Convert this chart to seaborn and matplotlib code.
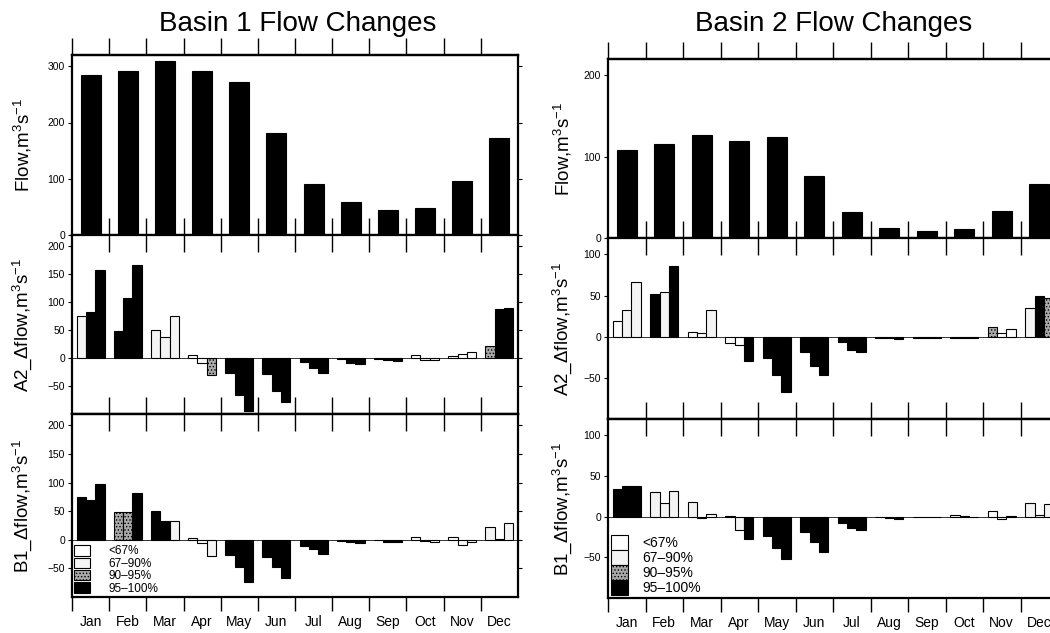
import numpy as np
import pandas as pd
import seaborn as sns
import matplotlib.pyplot as plt
from matplotlib.patches import Patch

months = ["Jan", "Feb", "Mar", "Apr", "May", "Jun",
          "Jul", "Aug", "Sep", "Oct", "Nov", "Dec"]
periods = ["T1", "T2", "T3"]
classes = ["<67%", "67–90%", "90–95%", "95–100%"]

# mean monthly flow, m3/s
basin1_flow = [285, 292, 309, 291, 272, 182, 90, 58, 44, 48, 96, 173]
basin2_flow = [108, 115, 127, 119, 124, 76, 32, 12, 9, 11, 33, 66]

# flow changes, three bars per month (T1, T2, T3)
basin1_a2 = [76, 82, 158, 48, 107, 167, 50, 38, 76, 5, -8, -30,
             -27, -66, -95, -28, -58, -79, -7, -17, -27, -2, -8, -11,
             -1, -4, -6, 5, -4, -4, 4, 8, 11, 22, 87, 90]
basin1_a2_cls = [1, 3, 3, 3, 3, 3, 1, 1, 1, 0, 0, 2,
                 3, 3, 3, 3, 3, 3, 3, 3, 3, 0, 3, 3,
                 0, 3, 3, 0, 0, 0, 0, 0, 0, 2, 3, 3]

basin1_b1 = [74, 70, 98, 48, 48, 81, 50, 33, 33, 4, -5, -29,
             -27, -47, -73, -30, -47, -66, -10, -16, -24, -2, -4, -6,
             -1, -3, -4, 5, -2, -4, 5, -9, -4, 23, 2, 29]
basin1_b1_cls = [3, 3, 3, 2, 2, 3, 3, 3, 1, 0, 0, 1,
                 3, 3, 3, 3, 3, 3, 3, 3, 3, 0, 3, 3,
                 0, 3, 3, 0, 0, 0, 0, 0, 0, 1, 0, 1]

basin2_a2 = [19, 32, 66, 52, 54, 86, 6, 4, 33, -8, -10, -29,
             -26, -47, -67, -18, -35, -47, -7, -16, -18, -1, -2, -3,
             -1, -1, -2, -1, -1, -2, 12, 4, 9, 35, 49, 47]
basin2_a2_cls = [0, 1, 1, 3, 1, 3, 0, 0, 1, 0, 0, 3,
                 3, 3, 3, 3, 3, 3, 3, 3, 3, 0, 3, 3,
                 0, 0, 0, 0, 0, 0, 2, 0, 0, 1, 3, 2]

basin2_b1 = [34, 38, 38, 30, 17, 32, 18, -2, 3, 1, -17, -27,
             -24, -38, -52, -19, -31, -43, -8, -14, -17, -1, -2, -3,
             -1, -1, -1, 2, 1, -1, 7, -3, 1, 17, 2, 16]
basin2_b1_cls = [3, 3, 3, 1, 1, 1, 1, 0, 0, 0, 1, 3,
                 3, 3, 3, 3, 3, 3, 3, 3, 3, 0, 3, 3,
                 0, 0, 0, 0, 0, 0, 0, 0, 0, 1, 0, 1]

fills = ["white", "#f4f4f4", "#a9a9a9", "black"]
hatches = [None, None, ".....", None]

sns.set_style("ticks")
plt.rcParams["font.family"] = ["Liberation Sans", "DejaVu Sans"]
plt.rcParams["mathtext.fontset"] = "custom"
plt.rcParams["mathtext.rm"] = "Liberation Sans"
plt.rcParams["mathtext.default"] = "regular"
plt.rcParams["hatch.linewidth"] = 0.6
for key in ["text.color", "axes.labelcolor", "xtick.color", "ytick.color",
            "axes.edgecolor"]:
    plt.rcParams[key] = "black"

W, H = 1050, 633
fig = plt.figure(figsize=(W / 100, H / 100), dpi=100)


def rect(x0, x1, y0, y1):
    return [x0 / W, 1 - y1 / H, (x1 - x0) / W, (y1 - y0) / H]


bounds = np.arange(-0.5, 11.0, 1.0)
inner = np.arange(0.5, 11.0, 1.0)


def style_axes(ax, ylim, yticks, ylabel, label_x, row):
    ax.set_xlim(-0.5, 11.5)
    ax.set_ylim(*ylim)
    ax.set_yticks(yticks)
    ax.set_xlabel("")
    ax.set_ylabel(ylabel, fontsize=13.5)
    ax.yaxis.set_label_coords(label_x, 0.5)
    for sp in ax.spines.values():
        sp.set_visible(True)
        sp.set_linewidth(1.6)
        sp.set_color("black")
    ax.tick_params(axis="y", direction="out", length=3, width=0.8,
                   left=True, right=True, labelsize=7.5, pad=2)
    ax.set_xticks(range(12), minor=True)
    ax.set_xticklabels(months, minor=True, fontsize=9)
    ax.tick_params(axis="x", which="minor", length=0, pad=13,
                   labelbottom=(row == 2))
    if row == 0:
        ax.set_xticks(inner)
        ax.tick_params(axis="x", which="major", direction="in", length=12,
                       width=1, top=False, bottom=True, labelbottom=False)
        sec = ax.secondary_xaxis("top")
        sec.set_xticks(bounds)
        sec.tick_params(axis="x", direction="out", length=12, width=1,
                        labeltop=False)
        sec.spines["top"].set_linewidth(1.6)
    elif row == 1:
        ax.set_xticks(inner)
        ax.tick_params(axis="x", which="major", direction="in", length=12,
                       width=1, top=True, bottom=True, labelbottom=False)
    else:
        ax.set_xticks(bounds)
        ax.tick_params(axis="x", which="major", direction="out", length=10,
                       width=1, top=False, bottom=True, labelbottom=False)
        sec = ax.secondary_xaxis("top")
        sec.set_xticks(inner)
        sec.tick_params(axis="x", direction="in", length=12, width=1,
                        labeltop=False)
        sec.spines["top"].set_linewidth(1.6)


def flow_panel(ax, flow):
    sns.barplot(x=months, y=flow, color="black", saturation=1, width=0.54,
                edgecolor="black", linewidth=0.8, ax=ax)


def change_panel(ax, values, cls):
    df = pd.DataFrame({
        "month": np.repeat(months, 3),
        "period": periods * 12,
        "value": values,
    })
    sns.barplot(data=df, x="month", y="value", hue="period", order=months,
                hue_order=periods, palette=["white"] * 3, saturation=1,
                width=0.75, dodge=True, edgecolor="black", linewidth=0.8,
                errorbar=None, legend=False, ax=ax)
    for bar in ax.patches:
        cx = bar.get_x() + bar.get_width() / 2
        m = int(round(cx))
        j = int(round((cx - m) / 0.25)) + 1
        c = cls[m * 3 + j]
        bar.set_facecolor(fills[c])
        if hatches[c]:
            bar.set_hatch(hatches[c])
    ax.axhline(0, color="#333333", lw=0.7, zorder=0.5)


def class_legend(ax, squeeze):
    handles = [Patch(facecolor=fills[i], edgecolor="black", linewidth=0.8,
                     hatch=hatches[i]) for i in range(4)]
    if squeeze:
        ax.legend(handles, classes, loc="lower left", frameon=False,
                  fontsize=8.5, handlelength=1.3, handleheight=0.95,
                  labelspacing=0.02, handletextpad=1.6,
                  borderaxespad=0.1, borderpad=0.1)
    else:
        ax.legend(handles, classes, loc="lower left", frameon=False,
                  fontsize=10, handlelength=1.25, handleheight=1.25,
                  labelspacing=0, handletextpad=1.0,
                  borderaxespad=0.1, borderpad=0.1)


ylab_flow = "Flow,m$^3$s$^{-1}$"
ylab_a2 = "A2_Δflow,m$^3$s$^{-1}$"
ylab_b1 = "B1_Δflow,m$^3$s$^{-1}$"

# Basin 1
ax = fig.add_axes(rect(72, 518, 55, 235))
flow_panel(ax, basin1_flow)
style_axes(ax, (0, 320), [0, 100, 200, 300], ylab_flow, -0.085, 0)

ax = fig.add_axes(rect(72, 518, 235, 414))
change_panel(ax, basin1_a2, basin1_a2_cls)
style_axes(ax, (-100, 220), [-50, 0, 50, 100, 150, 200], ylab_a2, -0.085, 1)

ax = fig.add_axes(rect(72, 518, 414, 597))
change_panel(ax, basin1_b1, basin1_b1_cls)
style_axes(ax, (-100, 220), [-50, 0, 50, 100, 150, 200], ylab_b1, -0.085, 2)
class_legend(ax, True)

# Basin 2
ax = fig.add_axes(rect(608, 1058, 59, 238))
flow_panel(ax, basin2_flow)
style_axes(ax, (0, 220), [0, 100, 200], ylab_flow, -0.075, 0)

ax = fig.add_axes(rect(608, 1058, 238, 419))
change_panel(ax, basin2_a2, basin2_a2_cls)
style_axes(ax, (-100, 120), [-50, 0, 50, 100], ylab_a2, -0.075, 1)

ax = fig.add_axes(rect(608, 1058, 419, 598))
change_panel(ax, basin2_b1, basin2_b1_cls)
style_axes(ax, (-100, 120), [-50, 0, 50, 100], ylab_b1, -0.075, 2)
class_legend(ax, False)

fig.text(298 / W, 1 - 31 / H, "Basin 1 Flow Changes", fontsize=20,
         ha="center", va="baseline")
fig.text(834 / W, 1 - 31 / H, "Basin 2 Flow Changes", fontsize=20,
         ha="center", va="baseline")

fig.savefig("out.png", dpi=100)
